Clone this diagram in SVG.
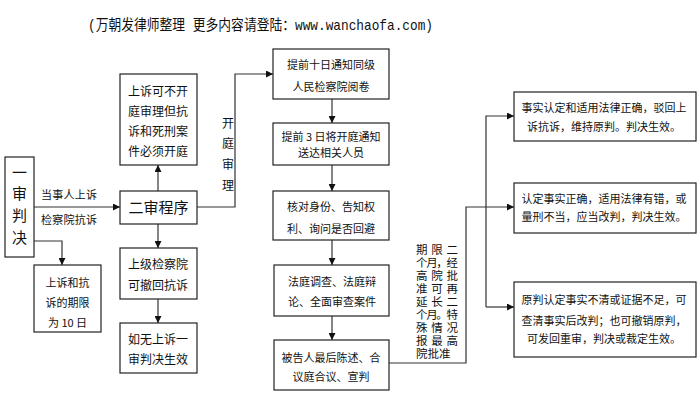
<svg xmlns="http://www.w3.org/2000/svg" width="700" height="394" viewBox="0 0 700 394">
<defs>
<marker id="ah" viewBox="0 0 8 8" refX="8" refY="4" markerWidth="7" markerHeight="7" markerUnits="userSpaceOnUse" orient="auto">
<path d="M0,0 L8,4 L0,8 Z" fill="#111"/>
</marker>
<style>
.box{fill:#fff;stroke:#222;stroke-width:1.2}
.ln{fill:none;stroke:#333;stroke-width:1.2}
.ar{fill:none;stroke:#333;stroke-width:1.2;marker-end:url(#ah)}
text{font-family:"Noto Sans CJK SC","Liberation Sans",sans-serif;fill:#111}
.t11{font-size:11px}
.t12{font-size:12px}
.mid{text-anchor:middle}
</style>
</defs>
<rect width="700" height="394" fill="#fff"/>
<text x="88" y="30" font-size="15" textLength="345" lengthAdjust="spacingAndGlyphs" style="font-family:'Liberation Mono','Noto Sans CJK SC',monospace">(万朝发律师整理 更多内容请登陆：www.wanchaofa.com)</text>

<g id="connectors">
<path class="ar" d="M34,207 H120"/>
<path class="ar" d="M158,191 V165"/>
<path class="ar" d="M158,224 V248"/>
<path class="ar" d="M158,299 V323"/>
<path class="ar" d="M34,241 H62 V265"/>
<path class="ar" d="M197,207 H235 V74 H273"/>
<path class="ar" d="M332,99 V123"/>
<path class="ar" d="M332,165 V191"/>
<path class="ar" d="M332,240 V265"/>
<path class="ar" d="M332,316 V340"/>
<path class="ar" d="M389,363 H466 V207 H514"/>
<path class="ar" d="M486,307 V116 H514"/>
<path class="ar" d="M486,307 H514"/>
</g>

<g id="n-yishen">
<rect class="box" x="5" y="157" width="29" height="100"/>
<text x="19.5" y="178" font-size="15" class="mid">一</text>
<text x="19.5" y="199" font-size="15" class="mid">审</text>
<text x="19.5" y="221" font-size="15" class="mid">判</text>
<text x="19.5" y="243" font-size="15" class="mid">决</text>
</g>

<g id="lbl-appeal">
<text x="41" y="198.5" class="t11" textLength="56">当事人上诉</text>
<text x="41" y="223.5" class="t11" textLength="56">检察院抗诉</text>
</g>

<g id="n-ershen">
<rect class="box" x="120" y="191" width="77" height="33"/>
<text x="158.5" y="213" font-size="15" class="mid">二审程序</text>
</g>

<g id="n-kaiting-rule">
<rect class="box" x="120" y="74" width="77" height="91"/>
<text x="128" y="95.5" class="t12" textLength="60">上诉可不开</text>
<text x="128" y="115.5" class="t12" textLength="60">庭审理但抗</text>
<text x="128" y="135.5" class="t12" textLength="60">诉和死刑案</text>
<text x="128" y="155.5" class="t12" textLength="60">件必须开庭</text>
</g>

<g id="n-shangji">
<rect class="box" x="120" y="248" width="77" height="51"/>
<text x="128" y="268.5" class="t12" textLength="60">上级检察院</text>
<text x="128" y="289.5" class="t12">可撤回抗诉</text>
</g>

<g id="n-ruwu">
<rect class="box" x="120" y="323" width="77" height="50"/>
<text x="128" y="343.5" class="t12" textLength="60">如无上诉一</text>
<text x="128" y="363.5" class="t12">审判决生效</text>
</g>

<g id="n-qixian">
<rect class="box" x="34" y="265" width="67" height="67"/>
<text x="67.5" y="286.5" class="t11 mid">上诉和抗</text>
<text x="67.5" y="306.5" class="t11 mid">诉的期限</text>
<text x="67.5" y="326.5" class="t11 mid">为 10 日</text>
</g>

<g id="lbl-kaiting">
<text x="228" y="127.5" class="t12 mid">开</text>
<text x="228" y="148" class="t12 mid">庭</text>
<text x="228" y="168.5" class="t12 mid">审</text>
<text x="228" y="189.5" class="t12 mid">理</text>
</g>

<g id="n-b1">
<rect class="box" x="273" y="49" width="116" height="50"/>
<text x="331" y="69" class="t11 mid">提前十日通知同级</text>
<text x="331" y="91" class="t11 mid">人民检察院阅卷</text>
</g>
<g id="n-b2">
<rect class="box" x="273" y="123" width="116" height="42"/>
<text x="331" y="141" class="t11 mid">提前 3 日将开庭通知</text>
<text x="331" y="157" class="t11 mid">送达相关人员</text>
</g>
<g id="n-b3">
<rect class="box" x="273" y="191" width="116" height="49"/>
<text x="331" y="211" class="t11 mid">核对身份、告知权</text>
<text x="331" y="233" class="t11 mid">利、询问是否回避</text>
</g>
<g id="n-b4">
<rect class="box" x="274" y="265" width="115" height="51"/>
<text x="332" y="286" class="t11 mid">法庭调查、法庭辩</text>
<text x="332" y="306" class="t11 mid">论、全面审查案件</text>
</g>
<g id="n-b5">
<rect class="box" x="274" y="340" width="115" height="50"/>
<text x="331" y="362" class="t11 mid">被告人最后陈述、合</text>
<text x="331" y="381" class="t11 mid">议庭合议、宣判</text>
</g>

<g id="lbl-limit" font-size="11.5">
<text x="416" y="254.4" textLength="42" lengthAdjust="spacing">期限二</text>
<text x="416" y="267.3" textLength="42" lengthAdjust="spacing">个月，经</text>
<text x="416" y="280.2" textLength="42" lengthAdjust="spacing">高院批</text>
<text x="416" y="293.1" textLength="42" lengthAdjust="spacing">准可再</text>
<text x="416" y="306" textLength="42" lengthAdjust="spacing">延长二</text>
<text x="416" y="318.9" textLength="42" lengthAdjust="spacing">个月。特</text>
<text x="416" y="331.8" textLength="42" lengthAdjust="spacing">殊情况</text>
<text x="416" y="344.7" textLength="42" lengthAdjust="spacing">报最高</text>
<text x="416" y="357.6">院批准</text>
</g>

<g id="n-r1">
<rect class="box" x="514" y="92" width="182" height="49"/>
<text x="604" y="112" class="t11 mid">事实认定和适用法律正确，驳回上</text>
<text x="604" y="131" class="t11 mid">诉抗诉，维持原判。判决生效。</text>
</g>
<g id="n-r2">
<rect class="box" x="514" y="183" width="182" height="50"/>
<text x="604" y="203" class="t11 mid">认定事实正确，适用法律有错，或</text>
<text x="604" y="221" class="t11 mid">量刑不当，应当改判，判决生效。</text>
</g>
<g id="n-r3">
<rect class="box" x="514" y="282" width="182" height="75"/>
<text x="604" y="304" class="t11 mid">原判认定事实不清或证据不足，可</text>
<text x="604" y="325" class="t11 mid">查清事实后改判；也可撤销原判，</text>
<text x="604" y="343" class="t11 mid">可发回重审，判决或裁定生效。</text>
</g>
</svg>
